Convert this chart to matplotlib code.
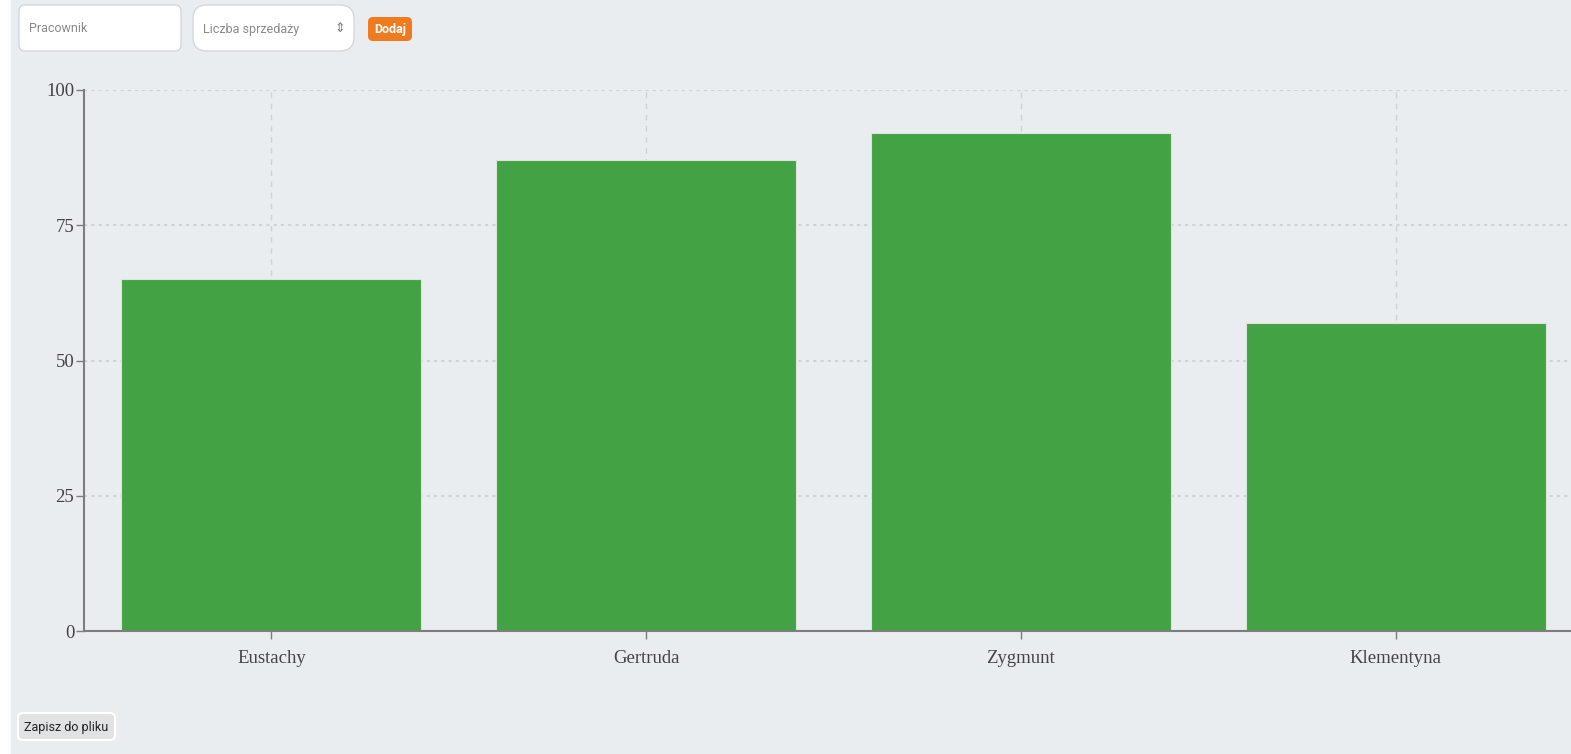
"""Słupkowy wykres sprzedaży pracowników (odtworzenie zrzutu ekranu)."""
import matplotlib
matplotlib.use("Agg")
import matplotlib.pyplot as plt
from matplotlib.patches import FancyBboxPatch, Rectangle

# dane
pracownicy = ["Eustachy", "Gertruda", "Zygmunt", "Klementyna"]
sprzedaz = [65, 87, 92, 57]
y_ticks = [0, 25, 50, 75, 100]

W, H = 1571, 754
BG = "#e9edf0"
GREEN = "#43a243"
SERIF = ["Liberation Serif", "DejaVu Serif"]
SANS = ["Roboto", "DejaVu Sans"]

fig = plt.figure(figsize=(W / 100, H / 100), dpi=100, facecolor="white")

# warstwa "strony" w pikselach
ui = fig.add_axes([0, 0, 1, 1])
ui.set_xlim(0, W)
ui.set_ylim(H, 0)
ui.axis("off")
ui.add_patch(Rectangle((11, 0), W - 11, H, color=BG, zorder=0))

# pole "Pracownik"
ui.add_patch(FancyBboxPatch((19, 5), 162, 46, boxstyle="round,pad=0,rounding_size=6",
                            fc="white", ec="#d4d7db", lw=1))
ui.text(29, 29, "Pracownik", fontsize=9, color="#8a8a8a", va="center", family=SANS)
# pole "Liczba sprzedaży"
ui.add_patch(FancyBboxPatch((193, 5), 161, 46, boxstyle="round,pad=0,rounding_size=14",
                            fc="white", ec="#d4d7db", lw=1))
ui.text(203, 29, "Liczba sprzedaży", fontsize=9, color="#8a8a8a", va="center", family=SANS)
ui.text(340, 29, "⇕", fontsize=9, color="#777777", va="center", ha="center",
        family=["DejaVu Sans"])
# przycisk "Dodaj"
ui.add_patch(FancyBboxPatch((368, 17), 44, 24, boxstyle="round,pad=0,rounding_size=5",
                            fc="#f07a1e", ec="none"))
ui.text(390, 29.5, "Dodaj", fontsize=9, color="white", va="center", ha="center",
        family=SANS, fontweight="bold")
# przycisk "Zapisz do pliku"
ui.add_patch(FancyBboxPatch((18, 713), 97, 27, boxstyle="round,pad=0,rounding_size=5",
                            fc="#e1e2e4", ec="white", lw=1.5))
ui.text(66.5, 727, "Zapisz do pliku", fontsize=9, color="#222222", va="center",
        ha="center", family=SANS)

# wykres
ax = fig.add_axes([84 / W, 123 / H, (1583 - 84) / W, 541 / H])
ax.set_facecolor("none")
x = range(len(pracownicy))
ax.bar(x, sprzedaz, width=0.8, color=GREEN, edgecolor="#d9e6d9", linewidth=0.8, zorder=3)
ax.set_xlim(-0.5, len(pracownicy) - 0.5)
ax.set_ylim(0, 100)
ax.set_xticks(list(x))
ax.set_xticklabels(pracownicy)
ax.set_yticks(y_ticks)
ax.set_axisbelow(True)
ax.grid(axis="y", color="#cfd2d6", linestyle=(0, (1.5, 2)), linewidth=1.5)
ax.grid(axis="x", color="#cfd2d6", linestyle=(0, (4, 4)), linewidth=1)

for side in ("top", "right"):
    ax.spines[side].set_visible(False)
for side in ("left", "bottom"):
    ax.spines[side].set_color("#7d7d7d")
    ax.spines[side].set_linewidth(1.5)
ax.spines["bottom"].set_zorder(4)

ax.tick_params(axis="both", colors="#7d7d7d", length=6, width=1)
for lab in ax.get_xticklabels() + ax.get_yticklabels():
    lab.set_family(SERIF)
    lab.set_fontsize(13.5)
    lab.set_color("#444444")
ax.tick_params(axis="x", pad=8)
ax.tick_params(axis="y", pad=1)

fig.savefig("out.png", dpi=100, facecolor="white")
